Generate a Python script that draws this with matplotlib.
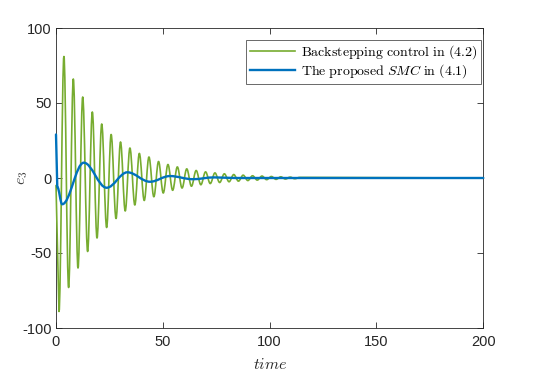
import matplotlib
matplotlib.use("Agg")
import matplotlib.pyplot as plt
from matplotlib.path import Path
from matplotlib.patches import PathPatch
from matplotlib.lines import Line2D

plt.rcParams['font.family'] = ['Liberation Sans', 'DejaVu Sans']
plt.rcParams['mathtext.fontset'] = 'cm'

# Backstepping control (green) – read extrema
g_t = [0, 1.4, 3.7, 5.9, 8.1, 10.3, 12.5, 14.8, 17.0, 19.2,
       21.4, 23.7, 25.8, 28.1, 30.2, 32.4, 34.6, 36.9, 39.0, 41.3,
       43.5, 45.8, 48.0, 50.2, 52.4, 54.6, 56.8, 59.0, 61.2, 63.4,
       65.6, 67.8, 70.0, 72.2, 74.4, 76.6, 78.8, 81.0, 83.2, 85.4,
       87.6, 89.8, 92.0, 94.2, 96.4, 98.6, 100.8, 103.0, 105.2, 107.4,
       109.6, 111.8, 114.0, 200]
g_v = [-5, -89, 81, -73, 66, -60, 54, -49, 44, -40,
       36, -33, 29, -27, 24, -22, 20, -18, 16.4, -15,
       14, -12.5, 11, -10, 9, -8.2, 7.4, -6.7, 6.1, -5.5,
       5.0, -4.5, 4.1, -3.7, 3.4, -3.0, 2.8, -2.5, 2.3, -2.1,
       1.9, -1.7, 1.5, -1.4, 1.3, -1.1, 1.0, -0.9, 0.8, -0.7,
       0.6, -0.5, 0.4, 0]

# Proposed SMC (blue) – read extrema
b_t = [0, 0.6, 2.9, 13.0, 23.7, 33.4, 44.0, 53.3, 64.0, 74.0, 84.0, 200]
b_v = [29, -6, -17.5, 10.2, -6.5, 3.8, -2.5, 1.3, -0.8, 0.4, 0, 0]

x_ticks = [0, 50, 100, 150, 200]
y_ticks = [-100, -50, 0, 50, 100]

GREEN = '#77AC30'
BLUE = '#0072BD'


def smooth_path(ts, vs, first_straight=1):
    """Curve through extrema with flat tangents at each extremum."""
    verts = [(ts[0], vs[0])]
    codes = [Path.MOVETO]
    for i in range(1, len(ts)):
        t0, v0 = ts[i - 1], vs[i - 1]
        t1, v1 = ts[i], vs[i]
        if i <= first_straight:
            verts.append((t1, v1))
            codes.append(Path.LINETO)
            continue
        d = 0.363 * (t1 - t0)
        verts += [(t0 + d, v0), (t1 - d, v1), (t1, v1)]
        codes += [Path.CURVE4] * 3
    return Path(verts, codes)


fig = plt.figure(figsize=(5.34, 3.81), dpi=100)
ax = fig.add_axes([56/534, 1-328/381, (483.3-56)/534, (328-28)/381])

ax.add_patch(PathPatch(smooth_path(g_t, g_v, first_straight=1), facecolor='none',
                       edgecolor=GREEN, lw=1.2, capstyle='round', joinstyle='round',
                       zorder=3, clip_on=False))
ax.add_patch(PathPatch(smooth_path(b_t, b_v, first_straight=1), facecolor='none',
                       edgecolor=BLUE, lw=1.7, capstyle='round', joinstyle='round',
                       zorder=3.1, clip_on=False))

ax.set_xlim(0, 200)
ax.set_ylim(-100, 100)
ax.set_xticks(x_ticks)
ax.set_yticks(y_ticks)
ax.set_yticklabels([str(v) for v in y_ticks])
ax.tick_params(direction='in', top=True, right=True, labelsize=10.5,
               length=4, width=0.6, colors='#262626')
ax.tick_params(axis='x', pad=5)
ax.tick_params(axis='y', pad=3)
for s in ax.spines.values():
    s.set_color('#262626')
    s.set_linewidth(0.6)

ax.set_xlabel(r'$time$', fontsize=11.5, color='#262626', labelpad=6)
ax.set_ylabel(r'$e_3$', fontsize=11.5, color='#404040')
ax.yaxis.set_label_coords((30 - 56) / 427.3, 0.5)

handles = [Line2D([], [], color=GREEN, lw=1.2), Line2D([], [], color=BLUE, lw=1.7)]
labels = [r'$\mathrm{Backstepping\ control\ in\ (4.2)}$',
          r'$\mathrm{The\ proposed\ }SMC\mathrm{\ in\ (4.1)}$']
leg = ax.legend(handles, labels, loc='upper right',
                bbox_to_anchor=(481/534, 1-40/381), bbox_transform=fig.transFigure,
                borderaxespad=0, fontsize=10, frameon=True, fancybox=False,
                edgecolor='#262626', handlelength=3.3,
                handletextpad=0.4, borderpad=0.25, labelspacing=0.1)
leg.get_frame().set_linewidth(0.6)
leg.set_zorder(5)

fig.savefig('out.png', dpi=100)
